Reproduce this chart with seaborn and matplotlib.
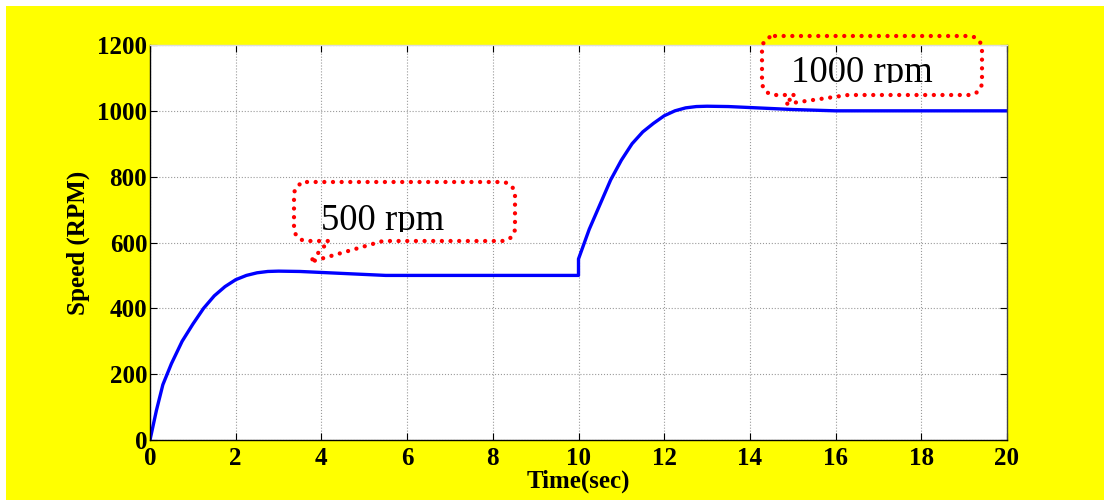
"""Motor speed response: 500 rpm step then 1000 rpm step."""

import matplotlib
matplotlib.use("Agg")
import matplotlib.pyplot as plt
from matplotlib.path import Path
from matplotlib.patches import PathPatch, Rectangle
from matplotlib.transforms import Bbox, TransformedBbox
import numpy as np
import pandas as pd
import seaborn as sns

# speed response
time_sec = [0, 0.15, 0.3, 0.5, 0.75, 1.0, 1.25, 1.5, 1.75, 2.0, 2.25, 2.5, 2.75,
            3.0, 3.5, 4.0, 4.5, 5.0, 5.5, 6.0, 8.0, 10.0,
            10.0, 10.25, 10.5, 10.75, 11.0, 11.25, 11.5, 11.75, 12.0, 12.25,
            12.5, 12.75, 13.0, 13.5, 14.0, 14.5, 15.0, 15.5, 16.0, 18.0, 20.0]
speed_rpm = [0, 90, 168, 232, 300, 352, 400, 438, 466, 487, 500, 508, 512,
             513, 512, 509, 506, 503, 500, 500, 500, 500,
             550, 640, 715, 790, 850, 900, 936, 962, 985, 1000,
             1009, 1013, 1014, 1013, 1010, 1007, 1004, 1002, 1000, 1000, 1000]

x_ticks = [0, 2, 4, 6, 8, 10, 12, 14, 16, 18, 20]
y_ticks = [0, 200, 400, 600, 800, 1000, 1200]

callout_labels = ["500 rpm", "1000 rpm"]

W, H = 1104, 500

sns.set_theme(style="ticks")
plt.rcParams["font.family"] = ["Liberation Serif", "DejaVu Serif"]
plt.rcParams["text.color"] = "black"
plt.rcParams["axes.labelcolor"] = "black"

fig = plt.figure(figsize=(W / 100, H / 100), dpi=100, facecolor="white")
fig.patches.append(Rectangle((6 / W, 0), 1 - 6 / W, 1 - 6 / H, transform=fig.transFigure,
                             facecolor="#FFFF00", edgecolor="none", zorder=-10))

ax = fig.add_axes([150 / W, 60 / H, 857 / W, 395 / H])
ax.set_facecolor("white")

df = pd.DataFrame({"Time": time_sec, "Speed": speed_rpm})
sns.lineplot(data=df, x="Time", y="Speed", ax=ax, color="#0000FF", linewidth=2.4,
             estimator=None, sort=False)

ax.set_xlim(0, 20)
ax.set_ylim(0, 1200)
ax.set_xticks(x_ticks)
ax.set_yticks(y_ticks)
ax.grid(True, color="#9a9a9a", linestyle=":", linewidth=0.8)
ax.tick_params(direction="in", length=5, width=0.8, top=True, right=True,
               labelsize=18, colors="black")
ax.tick_params(axis="x", pad=5)
ax.tick_params(axis="y", pad=2)
for lbl in ax.get_xticklabels() + ax.get_yticklabels():
    lbl.set_fontweight("bold")
for sp in ax.spines.values():
    sp.set_visible(True)
    sp.set_color("black")
    sp.set_linewidth(1.0)
ax.spines["top"].set_color("#dddddd")
ax.spines["right"].set_color("#444444")

ax.set_xlabel("Time(sec)", fontsize=18, fontweight="bold", labelpad=0)
ax.set_ylabel("Speed (RPM)", fontsize=18, fontweight="bold", labelpad=5)


def callout_path(left, top, right, bottom, r, base1, base2, tip):
    """Rounded-rectangle callout outline in pixel coords (y down)."""
    pts = []

    def arc(cx, cy, a0, a1):
        for a in np.linspace(np.radians(a0), np.radians(a1), 8):
            pts.append((cx + r * np.cos(a), cy + r * np.sin(a)))

    pts.append((left + r, top))
    pts.append((right - r, top))
    arc(right - r, top + r, -90, 0)
    pts.append((right, bottom - r))
    arc(right - r, bottom - r, 0, 90)
    pts.append((base2, bottom))
    pts.append(tip)
    pts.append((base1, bottom))
    pts.append((left + r, bottom))
    arc(left + r, bottom - r, 90, 180)
    pts.append((left, top + r))
    arc(left + r, top + r, 180, 270)
    verts = [(x / W, 1 - y / H) for x, y in pts]
    return Path(verts)


boxes = [
    dict(box=(294, 182, 515, 241), base1=329, base2=383, tip=(310, 262),
         text_xy=(321, 230), clip_y=232),
    dict(box=(762, 36, 982, 95), base1=795, base2=848, tip=(785, 104),
         text_xy=(791, 82), clip_y=83),
]

for spec, label in zip(boxes, callout_labels):
    l, t, r_, b = spec["box"]
    path = callout_path(l, t, r_, b, 13, spec["base1"], spec["base2"], spec["tip"])
    fig.patches.append(PathPatch(path, transform=fig.transFigure, fill=False,
                                 edgecolor="#FF0000", linewidth=3.1,
                                 linestyle=(0, (0.01, 2.0)), capstyle="round",
                                 joinstyle="round", zorder=5))
    tx, ty = spec["text_xy"]
    txt = fig.text(tx / W, 1 - ty / H, label, fontsize=26.5, color="black",
                   ha="left", va="baseline", zorder=6)
    clip = TransformedBbox(Bbox([[0, 1 - spec["clip_y"] / H], [1, 1]]), fig.transFigure)
    txt.set_clip_box(clip)
    txt.set_clip_on(True)

fig.savefig("out.png", dpi=100, facecolor=fig.get_facecolor())
